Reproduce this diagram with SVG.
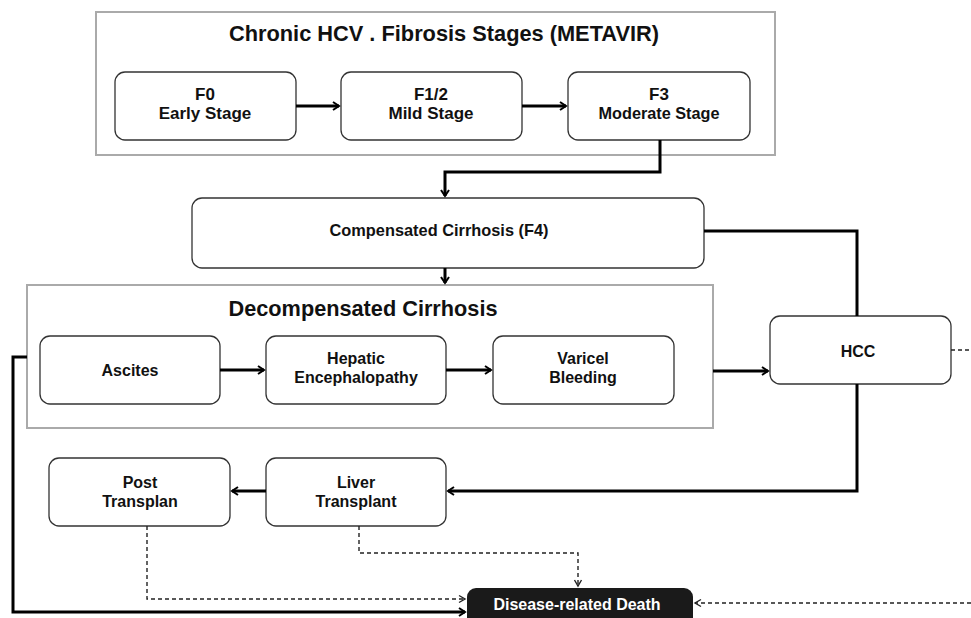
<svg xmlns="http://www.w3.org/2000/svg" width="971" height="618" viewBox="0 0 971 618">
<defs>
<style>
.cont{fill:#fff;stroke:#aaaaaa;stroke-width:2}
.node{fill:#fff;stroke:#333;stroke-width:1.3}
.t{font-family:"Liberation Sans",Arial,sans-serif;font-weight:bold;font-size:16px;fill:#111;text-anchor:middle}
.tc{font-family:"Liberation Sans",Arial,sans-serif;font-weight:bold;font-size:17px;fill:#111;text-anchor:middle}
.title{font-family:"Liberation Sans",Arial,sans-serif;font-weight:bold;font-size:22px;fill:#111;text-anchor:middle}
.solid{fill:none;stroke:#000;stroke-width:3}
.dash{fill:none;stroke:#222;stroke-width:1.4;stroke-dasharray:4 3}
</style>
<marker id="ah" markerWidth="10" markerHeight="10" refX="8" refY="5" orient="auto" markerUnits="userSpaceOnUse">
<path d="M2,1 L8,5 L2,9" fill="none" stroke="#000" stroke-width="2"/>
</marker>
<marker id="ahd" markerWidth="10" markerHeight="10" refX="8" refY="5" orient="auto" markerUnits="userSpaceOnUse">
<path d="M2,1.5 L8,5 L2,8.5" fill="none" stroke="#222" stroke-width="1.4"/>
</marker>
</defs>
<rect width="971" height="618" fill="#fff"/>

<g id="fibrosis">
<rect class="cont" x="96" y="12" width="679" height="143"/>
<text class="title" x="444" y="41" textLength="430" lengthAdjust="spacingAndGlyphs">Chronic HCV . Fibrosis Stages (METAVIR)</text>
</g>
<g id="f0"><rect class="node" x="115" y="72" width="181" height="68" rx="10"/><text class="tc" x="205" y="100">F0</text><text class="tc" x="205" y="119">Early Stage</text></g>
<g id="f12"><rect class="node" x="341" y="72" width="181" height="68" rx="10"/><text class="tc" x="431" y="100">F1/2</text><text class="tc" x="431" y="119">Mild Stage</text></g>
<g id="f3"><rect class="node" x="568" y="72" width="182" height="68" rx="10"/><text class="tc" x="659" y="100">F3</text><text class="tc" x="659" y="119" textLength="121" lengthAdjust="spacingAndGlyphs">Moderate Stage</text></g>

<g id="compensated"><rect class="node" x="192" y="198" width="512" height="70" rx="10"/><text class="tc" x="439" y="236" textLength="219" lengthAdjust="spacingAndGlyphs">Compensated Cirrhosis (F4)</text></g>

<g id="decompensated">
<rect class="cont" x="27" y="285" width="686" height="143"/>
<text class="title" x="363" y="316" textLength="269" lengthAdjust="spacingAndGlyphs">Decompensated Cirrhosis</text>
</g>
<g id="ascites"><rect class="node" x="40" y="336" width="180" height="68" rx="10"/><text class="t" x="130" y="376">Ascites</text></g>
<g id="hepatic"><rect class="node" x="266" y="336" width="180" height="68" rx="10"/><text class="t" x="356" y="364">Hepatic</text><text class="t" x="356" y="383">Encephalopathy</text></g>
<g id="varicel"><rect class="node" x="493" y="336" width="181" height="68" rx="10"/><text class="t" x="583" y="364">Varicel</text><text class="t" x="583" y="383">Bleeding</text></g>

<g id="hcc"><rect class="node" x="770" y="316" width="181" height="68" rx="10"/><text class="t" x="858" y="357">HCC</text></g>

<g id="post"><rect class="node" x="49" y="458" width="181" height="68" rx="10"/><text class="t" x="140" y="488">Post</text><text class="t" x="140" y="507">Transplan</text></g>
<g id="liver"><rect class="node" x="266" y="458" width="180" height="68" rx="10"/><text class="t" x="356" y="488">Liver</text><text class="t" x="356" y="507">Transplant</text></g>

<g id="death"><rect x="467" y="588" width="226" height="40" rx="9" fill="#1a1a1a"/><text class="t" x="577" y="610" style="fill:#fff">Disease-related Death</text></g>

<g id="connectors">
<line class="solid" x1="296" y1="106" x2="339" y2="106" marker-end="url(#ah)"/>
<line class="solid" x1="522" y1="106" x2="566" y2="106" marker-end="url(#ah)"/>
<polyline class="solid" points="660,140 660,172 445,172 445,196" marker-end="url(#ah)"/>
<line class="solid" x1="445" y1="268" x2="445" y2="283" marker-end="url(#ah)"/>
<line class="solid" x1="220" y1="370" x2="264" y2="370" marker-end="url(#ah)"/>
<line class="solid" x1="446" y1="370" x2="491" y2="370" marker-end="url(#ah)"/>
<line class="solid" x1="713" y1="371" x2="768" y2="371" marker-end="url(#ah)"/>
<polyline class="solid" points="704,231 857,231 857,316"/>
<polyline class="solid" points="857,384 857,491 448,491" marker-end="url(#ah)"/>
<line class="solid" x1="266" y1="491" x2="232" y2="491" marker-end="url(#ah)"/>
<polyline class="solid" points="27,357 13,357 13,612 465,612" marker-end="url(#ah)"/>
<line class="dash" x1="951" y1="350" x2="971" y2="350"/>
<polyline class="dash" points="147,526 147,599 465,599" marker-end="url(#ahd)"/>
<polyline class="dash" points="359,526 359,553 578,553 578,586" marker-end="url(#ahd)"/>
<line class="dash" x1="971" y1="603" x2="695" y2="603" marker-end="url(#ahd)"/>
</g>
</svg>
